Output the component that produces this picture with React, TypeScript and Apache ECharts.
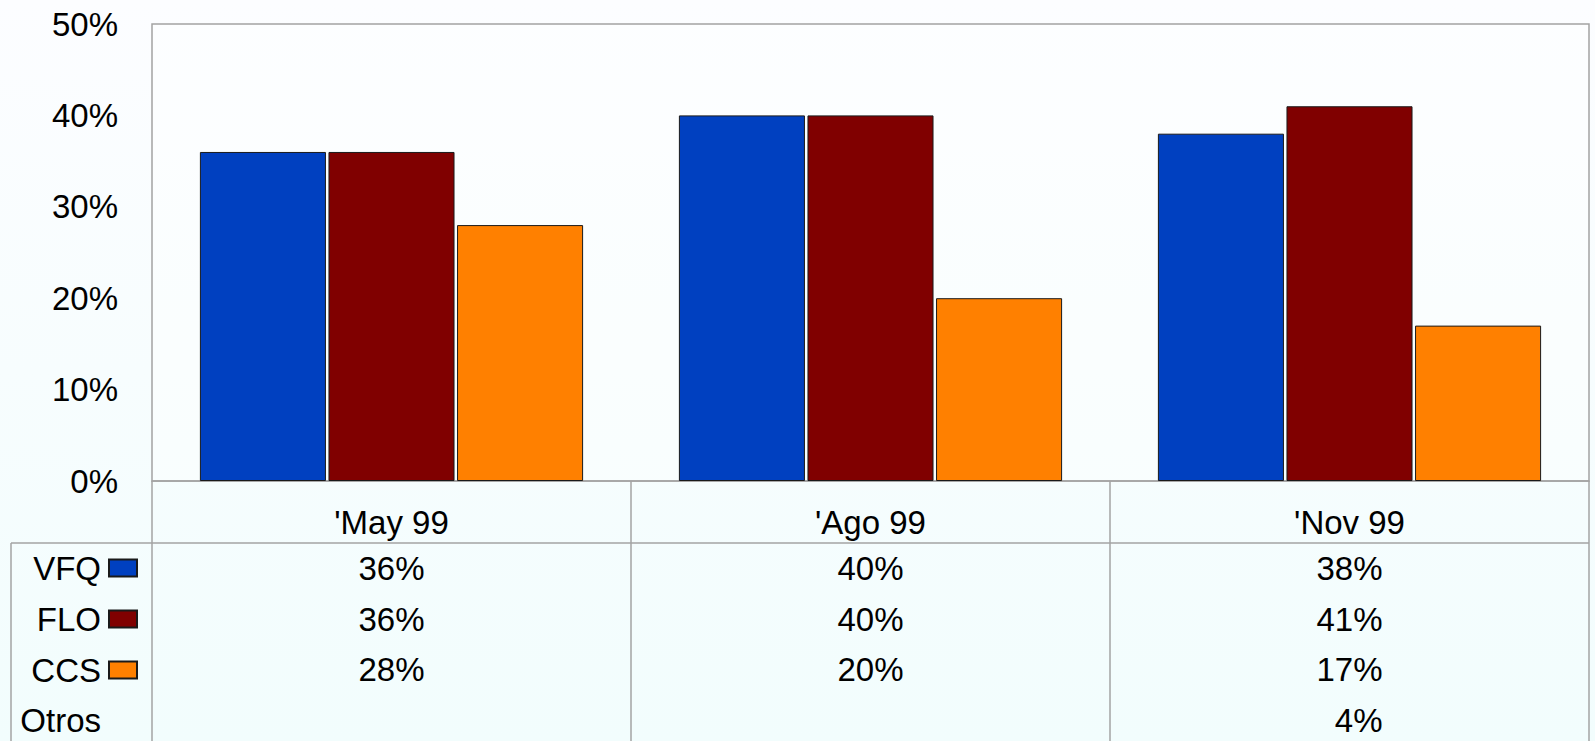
import React, { useEffect, useRef } from "react";
import * as echarts from "echarts";

const categories = ["'May 99", "'Ago 99", "'Nov 99"];
const seriesNames = ["VFQ", "FLO", "CCS"];
const vfqValues = [36, 40, 38];
const floValues = [36, 40, 41];
const ccsValues = [28, 20, 17];
const otrosValues: (number | null)[] = [null, null, 4];
const tableRowNames = ["VFQ", "FLO", "CCS", "Otros"];
const seriesColors = ["#0040c0", "#800000", "#ff8000"];
const yMin = 0;
const yMax = 50;
const yInterval = 10;

const FONT = "'Liberation Sans', Arial, sans-serif";
const W = 1595;
const H = 741;
const GRID_LEFT = 152;
const GRID_RIGHT = 1589;
const GRID_TOP = 24;
const GRID_BOTTOM = 481;
const ROW_CENTERS = [568, 619, 669, 720];
const TABLE_LINE_Y = 543;
const TABLE_LEFT = 11;
const GRAY = "#a3a3a3";

export default function App() {
  const ref = useRef<HTMLDivElement>(null);

  useEffect(() => {
    if (!ref.current) return;
    const chart = echarts.init(ref.current, undefined, { renderer: "svg" });
    const seriesData = [vfqValues, floValues, ccsValues];
    const tableRows = [vfqValues, floValues, ccsValues, otrosValues];

    const rowAxes = tableRows.map((row, r) => ({
      type: "category",
      gridIndex: 0,
      position: "bottom",
      data: categories,
      offset: ROW_CENTERS[r] - GRID_BOTTOM,
      axisLine: { show: false },
      axisTick: { show: false },
      name: r === 3 ? tableRowNames[3] : "",
      nameLocation: "start",
      nameGap: GRID_LEFT - 101,
      nameTextStyle: {
        fontFamily: FONT,
        fontSize: 33,
        color: "#000",
        align: "right",
        verticalAlign: "middle",
      },
      axisLabel: {
        interval: 0,
        margin: 0,
        verticalAlign: "middle",
        formatter: (_v: string, i: number) => {
          const val = row[i];
          return val === null || val === undefined ? "" : "{v|" + val + "%}";
        },
        rich: {
          v: {
            width: 66,
            align: "right",
            fontFamily: FONT,
            fontSize: 33,
            color: "#000",
          },
        },
      },
    }));

    const option: any = {
      animation: false,
      backgroundColor: "#f8fdfe",
      graphic: [
        {
          type: "rect",
          z: -100,
          silent: true,
          shape: { x: 0, y: 0, width: W, height: H },
          style: {
            fill: new echarts.graphic.LinearGradient(0, 0, 0, 1, [
              { offset: 0, color: "#fcfdff" },
              { offset: 1, color: "#f2fdfd" },
            ]),
          },
        },
        {
          type: "line",
          silent: true,
          shape: { x1: TABLE_LEFT, y1: TABLE_LINE_Y, x2: GRID_RIGHT, y2: TABLE_LINE_Y },
          style: { stroke: GRAY, lineWidth: 1.5 },
        },
        {
          type: "line",
          silent: true,
          shape: { x1: TABLE_LEFT, y1: TABLE_LINE_Y, x2: TABLE_LEFT, y2: H },
          style: { stroke: GRAY, lineWidth: 1.5 },
        },
      ],
      grid: {
        left: GRID_LEFT,
        right: W - GRID_RIGHT,
        top: GRID_TOP,
        bottom: H - GRID_BOTTOM,
        show: true,
        backgroundColor: "rgba(255,255,255,0.35)",
        borderColor: GRAY,
        borderWidth: 1.5,
      },
      legend: {
        data: seriesNames,
        orient: "vertical",
        align: "right",
        right: W - 138,
        top: ROW_CENTERS[0] - 17,
        padding: 0,
        itemWidth: 28,
        itemHeight: 17,
        itemGap: 17,
        icon: "rect",
        selectedMode: false,
        textStyle: {
          fontFamily: FONT,
          fontSize: 33,
          lineHeight: 34,
          color: "#000",
          padding: [0, 3, 0, 0],
        },
      },
      yAxis: {
        type: "value",
        min: yMin,
        max: yMax,
        interval: yInterval,
        axisLine: { show: false },
        axisTick: { show: false },
        splitLine: { show: false },
        axisLabel: {
          formatter: "{value}%",
          fontFamily: FONT,
          fontSize: 33,
          color: "#000",
          margin: 34,
        },
      },
      xAxis: [
        {
          type: "category",
          gridIndex: 0,
          position: "bottom",
          data: categories,
          axisLine: { show: true, lineStyle: { color: GRAY, width: 1.5 } },
          axisTick: {
            show: true,
            length: H - GRID_BOTTOM,
            lineStyle: { color: GRAY, width: 1.5 },
          },
          axisLabel: {
            interval: 0,
            margin: 41,
            verticalAlign: "middle",
            fontFamily: FONT,
            fontSize: 33,
            color: "#000",
          },
        },
        ...rowAxes,
      ],
      series: seriesNames.map((name, i) => ({
        name,
        type: "bar",
        xAxisIndex: 0,
        data: seriesData[i],
        barGap: "2%",
        barCategoryGap: "20%",
        itemStyle: {
          color: seriesColors[i],
          borderColor: "#1a1a1a",
          borderWidth: 1,
        },
      })),
    };

    chart.setOption(option);
    return () => chart.dispose();
  }, []);

  return (
    <div
      ref={ref}
      style={{ position: "fixed", left: 0, top: 0, width: W, height: H }}
    />
  );
}
